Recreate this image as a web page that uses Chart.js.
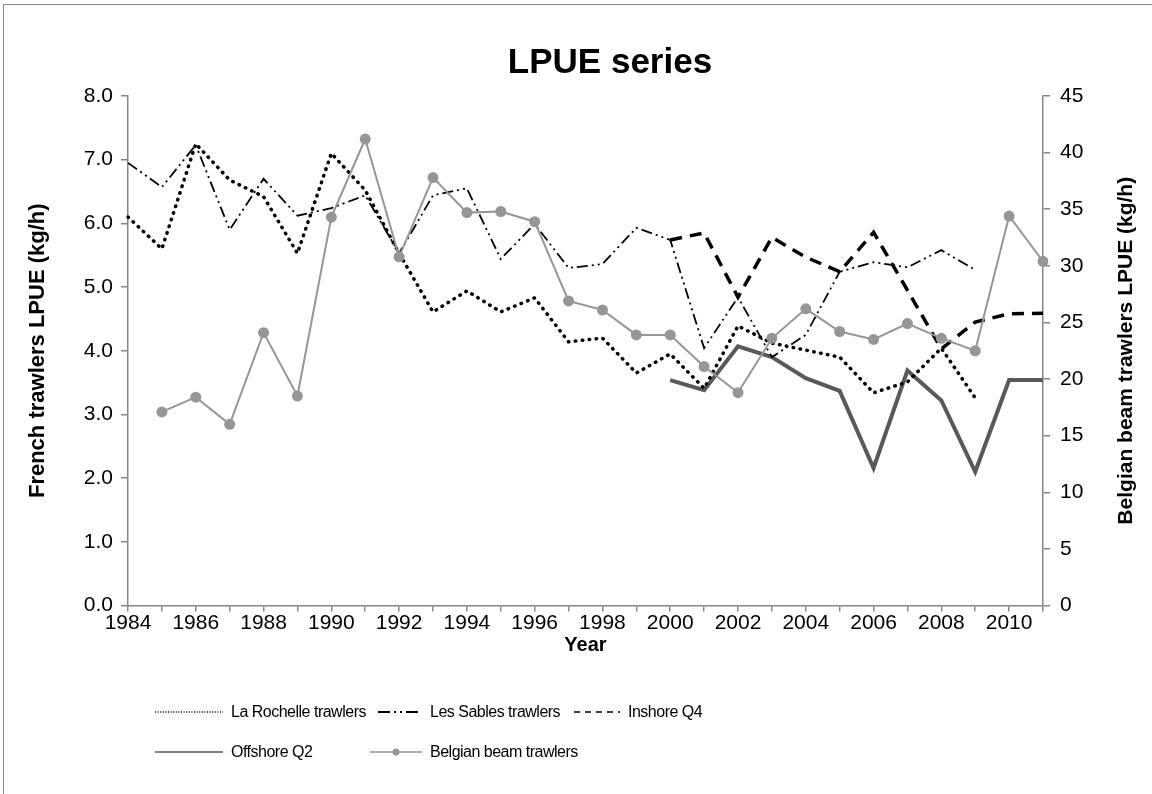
<!DOCTYPE html>
<html><head><meta charset="utf-8">
<script src="https://cdn.jsdelivr.net/npm/chart.js@4.4.1/dist/chart.umd.min.js"></script>
<style>
html,body{margin:0;padding:0;background:#fff;}
#wrap{position:relative;width:1152px;height:794px;overflow:hidden;background:#fff;}
#frame{position:absolute;left:3px;top:4px;width:1180px;height:830px;border:1px solid #868686;box-sizing:border-box;}
#c{position:absolute;left:0;top:0;}
.leg{position:absolute;font-family:"Liberation Sans",Arial,sans-serif;font-size:16px;letter-spacing:-0.5px;color:#000;white-space:nowrap;line-height:20px;}
.leg svg{position:absolute;}
</style></head>
<body><div id="wrap"><div id="frame"></div><canvas id="c" width="1220" height="794"></canvas><div id="legend"></div></div>
<script>
// ---------- data ----------
const years = ["1984","1985","1986","1987","1988","1989","1990","1991","1992","1993","1994","1995","1996","1997","1998","1999","2000","2001","2002","2003","2004","2005","2006","2007","2008","2009","2010","2011"];
const laRochelle = [6.10,5.60,7.25,6.68,6.42,5.53,7.10,6.52,5.53,4.61,4.94,4.61,4.83,4.14,4.20,3.65,3.95,3.41,4.39,4.12,4.01,3.90,3.34,3.51,4.04,3.26,null,null];
const lesSables  = [6.95,6.57,7.23,5.90,6.70,6.12,6.24,6.44,5.53,6.44,6.55,5.44,5.99,5.30,5.36,5.93,5.74,4.04,4.84,3.90,4.25,5.24,5.39,5.31,5.58,5.27,null,null];
const inshoreQ4  = [null,null,null,null,null,null,null,null,null,null,null,null,null,null,null,null,5.74,5.85,4.84,5.78,5.47,5.24,5.86,4.95,4.03,4.45,4.58,4.59];
const offshoreQ2 = [null,null,null,null,null,null,null,null,null,null,null,null,null,null,null,null,3.54,3.38,4.07,3.90,3.57,3.37,2.16,3.69,3.22,2.10,3.54,3.54];
const belgianBeam = [null,17.1,18.4,16.0,24.1,18.5,34.3,41.2,30.8,37.8,34.7,34.8,33.9,26.9,26.1,23.9,23.9,21.1,18.8,23.6,26.2,24.2,23.5,24.9,23.6,22.5,34.4,30.4];
const seriesNames = ["La Rochelle trawlers","Les  Sables trawlers","Inshore Q4","Offshore Q2","Belgian beam trawlers"];
const chartTitle = "LPUE series";
const xTitle = "Year";
const yLeftTitle = "French trawlers LPUE (kg/h)";
const yRightTitle = "Belgian beam trawlers LPUE (kg/h)";
const yLeftRange = [0, 8, 1];
const yRightRange = [0, 45, 5];

// ---------- styles ----------
const F = '"Liberation Sans", Arial, sans-serif';
const AX = '#868686';
const tickFont = {family:F, size:21};
const titleFont = {family:F, size:22, weight:'bold'};

const rightTitlePlugin = {
  id:'rightTitle',
  afterDraw(c){
    const ctx = c.ctx, a = c.chartArea;
    ctx.save();
    ctx.translate(1126, (a.top + a.bottom)/2);
    ctx.rotate(-Math.PI/2);
    ctx.font = 'bold 21px ' + F;
    ctx.fillStyle = '#000';
    ctx.textAlign = 'center';
    ctx.textBaseline = 'middle';
    ctx.fillText(yRightTitle, 0, 0);
    ctx.restore();
  }
};

const chart = new Chart(document.getElementById('c').getContext('2d'), {
  type:'line',
  data:{
    labels: years,
    datasets:[
      {label:seriesNames[0], data:laRochelle, yAxisID:'y', borderColor:'#000', borderWidth:3.5, borderDash:[0.5,6.5], borderCapStyle:'round', pointRadius:0, tension:0, order:1},
      {label:seriesNames[1], data:lesSables, yAxisID:'y', borderColor:'#000', borderWidth:1.8, borderDash:[11,4,2,4,2,4], pointRadius:0, tension:0, order:2},
      {label:seriesNames[2], data:inshoreQ4, yAxisID:'y', borderColor:'#000', borderWidth:3.5, borderDash:[12,8], pointRadius:0, tension:0, order:3},
      {label:seriesNames[3], data:offshoreQ2, yAxisID:'y', borderColor:'#595959', borderWidth:4, pointRadius:0, tension:0, order:4},
      {label:seriesNames[4], data:belgianBeam, yAxisID:'y2', borderColor:'#969696', borderWidth:2, pointRadius:5.5, pointBackgroundColor:'#969696', pointBorderWidth:0, tension:0, order:0}
    ]
  },
  options:{
    responsive:false, animation:false, devicePixelRatio:1,
    layout:{padding:{left:0,right:0,top:0,bottom:126.5}},
    plugins:{
      legend:{display:false}, tooltip:{enabled:false},
      title:{display:true, text:chartTitle, color:'#000', font:{family:F, size:35, weight:'bold', lineHeight:1.2}, padding:{top:42,bottom:12}}
    },
    scales:{
      x:{
        type:'category', offset:false,
        grid:{drawOnChartArea:false, color:AX, tickLength:6, lineWidth:1.5},
        border:{color:AX, width:1.5},
        ticks:{autoSkip:false, maxRotation:0, minRotation:0, color:'#000', font:tickFont, padding:-1,
          callback(v,i){ return i%2===0 ? this.getLabelForValue(v) : ''; }},
        title:{display:true, text:xTitle, color:'#000', font:{family:F,size:20,weight:'bold'}, padding:{top:0,bottom:10}},
        afterFit(s){ s.height = 62; }
      },
      y:{
        position:'left', min:yLeftRange[0], max:yLeftRange[1],
        grid:{drawOnChartArea:false, color:AX, tickLength:7, lineWidth:1.5},
        border:{color:AX, width:1.5},
        ticks:{stepSize:yLeftRange[2], color:'#000', font:tickFont, padding:8, callback:v=>Number(v).toFixed(1)},
        title:{display:true, text:yLeftTitle, color:'#000', font:titleFont, padding:{top:25}},
        afterFit(s){ s.width = 128; }
      },
      y2:{
        position:'right', min:yRightRange[0], max:yRightRange[1],
        grid:{drawOnChartArea:false, color:AX, tickLength:7, lineWidth:1.5},
        border:{color:AX, width:1.5},
        ticks:{stepSize:yRightRange[2], color:'#000', font:tickFont, padding:10},
        afterFit(s){ s.width = 177; }
      }
    }
  },
  plugins:[rightTitlePlugin]
});

// ---------- HTML legend ----------
const legendItems = [
  {i:0, x:155, y:712, w:68, svg:'<line x1="0" y1="6" x2="68" y2="6" stroke="#000" stroke-width="1.3" stroke-dasharray="1,1.6"/>'},
  {i:1, x:378, y:712, w:44, svg:'<line x1="0" y1="6" x2="44" y2="6" stroke="#000" stroke-width="2" stroke-dasharray="12,4,2,4,2,4"/>'},
  {i:2, x:574, y:712, w:46, svg:'<line x1="0" y1="6" x2="46" y2="6" stroke="#000" stroke-width="1.6" stroke-dasharray="6,5"/>'},
  {i:3, x:155, y:752, w:68, svg:'<line x1="0" y1="6" x2="68" y2="6" stroke="#595959" stroke-width="1.6"/>'},
  {i:4, x:370, y:752, w:52, svg:'<line x1="0" y1="6" x2="52" y2="6" stroke="#969696" stroke-width="1.6"/><circle cx="26" cy="6" r="3.5" fill="#969696"/>'}
];
const lg = document.getElementById('legend');
legendItems.forEach(it=>{
  const d = document.createElement('div');
  d.className = 'leg';
  d.style.left = it.x + 'px';
  d.style.top = (it.y - 10) + 'px';
  d.innerHTML = '<svg width="'+it.w+'" height="12" style="left:0;top:4px">'+it.svg+'</svg><span style="position:absolute;left:'+(it.w+8)+'px;top:0">'+seriesNames[it.i]+'</span>';
  lg.appendChild(d);
});
</script>
</body></html>
